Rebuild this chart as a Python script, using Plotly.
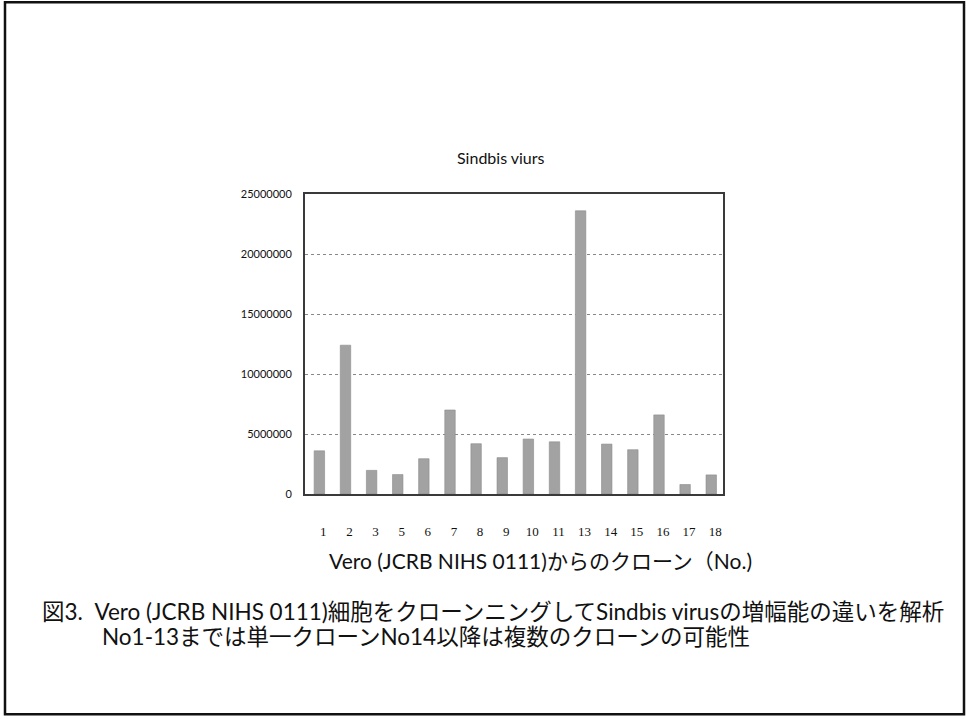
import plotly.graph_objects as go

# Clone numbers (No.4 and No.12 are absent) and measured titre
clones = ["1", "2", "3", "5", "6", "7", "8", "9", "10", "11",
          "13", "14", "15", "16", "17", "18"]
titre = [3600000, 12400000, 1970000, 1620000, 2940000, 7000000, 4190000,
         3030000, 4580000, 4350000, 23600000, 4160000, 3690000, 6590000,
         790000, 1590000]
y_ticks = [0, 5000000, 10000000, 15000000, 20000000, 25000000]

W, H = 966, 719
L, R, T, B = 305, 723, 194, 494.5  # plot-area edges in pixels


def px_x(x):
    return (x - L) / (R - L)


def px_y(y):
    return (B - y) / (B - T)


fig = go.Figure(
    go.Bar(
        x=clones,
        y=titre,
        marker=dict(color="#a2a2a2", line=dict(color="#8c8c8c", width=0.6)),
        width=0.4,
    )
)

fig.update_layout(
    width=W,
    height=H,
    margin=dict(l=L, r=W - R, t=T, b=H - B, pad=0),
    paper_bgcolor="white",
    plot_bgcolor="white",
    showlegend=False,
    font=dict(family="Lato, 'Noto Sans CJK JP'", color="#111"),
)

fig.update_xaxes(
    type="category",
    range=[-0.55, 15.45],
    showline=True,
    mirror=True,
    linecolor="#3a3a3a",
    linewidth=2,
    showgrid=False,
    ticks="",
    tickfont=dict(family="'Liberation Serif', serif", size=13, color="#111"),
    ticklabelstandoff=24,
    ticklabelshift=4,
)

fig.update_yaxes(
    range=[0, 25000000],
    tickvals=y_ticks,
    ticktext=[str(v) for v in y_ticks],
    showline=True,
    mirror=True,
    linecolor="#3a3a3a",
    linewidth=2,
    showgrid=True,
    gridcolor="#888",
    griddash="dot",
    gridwidth=1,
    zeroline=False,
    ticks="",
    tickfont=dict(family="Lato", size=11, color="#111"),
    ticklabelstandoff=9,
)

mixed = "Lato, 'Noto Sans CJK JP'"
annotations = [
    dict(text="Sindbis viurs", x=px_x(501), y=px_y(157),
         font=dict(family="Lato", size=16, color="#111")),
    dict(text="Vero (JCRB NIHS 0111)からのクローン（No.)", x=px_x(540), y=px_y(561),
         font=dict(family=mixed, size=21, color="#111")),
    dict(text="図3.\u00a0\u00a0Vero (JCRB NIHS 0111)細胞をクローンニングしてSindbis virusの増幅能の違いを解析",
         x=px_x(40), y=px_y(612), xanchor="left",
         font=dict(family=mixed, size=22.5, color="#111")),
    dict(text="No1-13までは単一クローンNo14以降は複数のクローンの可能性",
         x=px_x(100), y=px_y(637), xanchor="left",
         font=dict(family=mixed, size=22.5, color="#111")),
]
for a in annotations:
    a.setdefault("xanchor", "center")
    fig.add_annotation(xref="paper", yref="paper", yanchor="middle",
                       showarrow=False, **a)

# Frame around the whole figure
fig.add_shape(type="rect", xref="paper", yref="paper",
              x0=px_x(5), x1=px_x(964), y0=px_y(715), y1=px_y(2),
              line=dict(color="#111", width=2.5), layer="above")

fig.write_html("out.html")
